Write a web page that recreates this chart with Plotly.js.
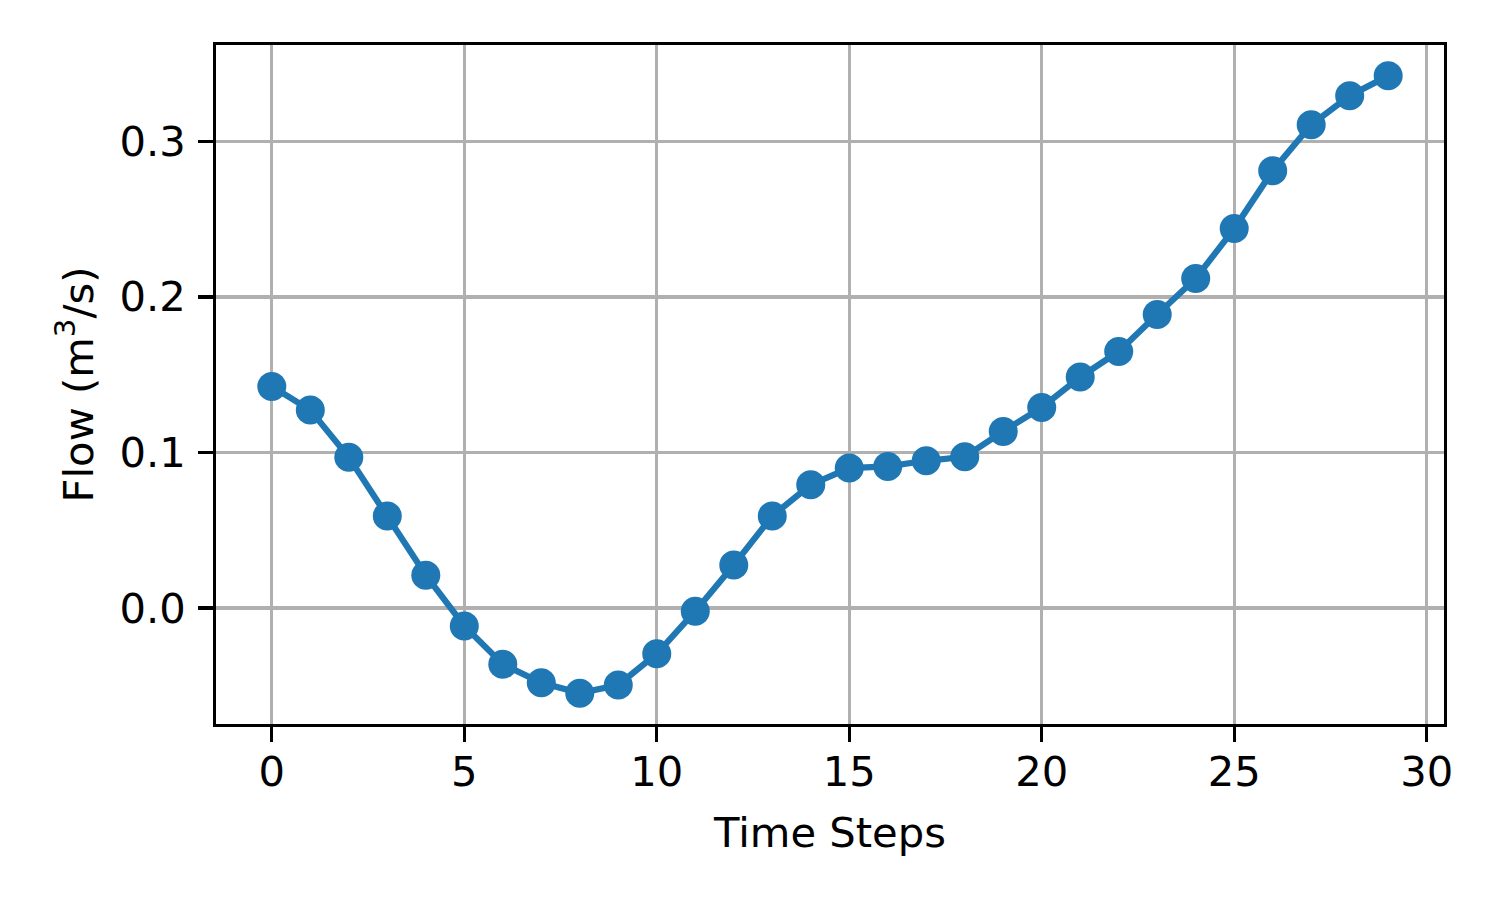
<!DOCTYPE html>
<html>
<head>
<meta charset="utf-8">
<script src="https://cdn.plot.ly/plotly-3.0.1.min.js"></script>
<style>html,body{margin:0;padding:0;background:#fff;}#chart{width:1500px;height:900px;}</style>
</head>
<body>
<div id="chart"></div>
<script>
const timeSteps = [0,1,2,3,4,5,6,7,8,9,10,11,12,13,14,15,16,17,18,19,20,21,22,23,24,25,26,27,28,29];
const flowValues = [0.1424,0.1272,0.0968,0.0591,0.0210,-0.0116,-0.0362,-0.0482,-0.0548,-0.0496,
  -0.0295,-0.0021,0.0276,0.0591,0.0792,0.0899,0.0910,0.0946,0.0972,0.1135,
  0.1289,0.1484,0.1649,0.1886,0.2118,0.2439,0.2811,0.3107,0.3293,0.3421];
const xTicks = [0,5,10,15,20,25,30];
const yTicks = [0.0,0.1,0.2,0.3];
const yTickLabels = ['0.0','0.1','0.2','0.3'];

const xmin = Math.min(...timeSteps), xmax = Math.max(...timeSteps);
const ymin = Math.min(...flowValues), ymax = Math.max(...flowValues);
const xm = (xmax - xmin) * 0.05, ym = (ymax - ymin) * 0.05;

const font = {family: 'DejaVu Sans', size: 41.7, color: '#000'};

const trace = {
  x: timeSteps, y: flowValues, type: 'scatter', mode: 'lines+markers',
  line: {color: '#1f77b4', width: 6.25},
  marker: {color: '#1f77b4', size: 29},
  hoverinfo: 'skip'
};

const axisCommon = {
  showline: true, mirror: true, linecolor: '#000', linewidth: 3.3,
  ticks: 'outside', ticklen: 14.6, tickwidth: 3.3, tickcolor: '#000',
  showgrid: true, gridcolor: '#b0b0b0', gridwidth: 3.3, zeroline: false,
  tickfont: font
};

const layout = {
  width: 1500, height: 900,
  paper_bgcolor: '#fff', plot_bgcolor: '#fff',
  margin: {l: 216, r: 56, t: 45, b: 176},
  showlegend: false,
  font: font,
  xaxis: Object.assign({}, axisCommon, {
    range: [xmin - xm, xmax + xm],
    tickvals: xTicks,
    ticktext: xTicks.map(String),
    ticklabelstandoff: -6,
    title: {text: 'Time Steps', font: font, standoff: 24}
  }),
  yaxis: Object.assign({}, axisCommon, {
    range: [ymin - ym, ymax + ym],
    tickvals: yTicks,
    ticktext: yTickLabels,
    ticklabelstandoff: 4,
    title: {text: 'Flow (m<sup>3</sup>/s)', font: font, standoff: 14}
  })
};

Plotly.newPlot('chart', [trace], layout, {staticPlot: true, displayModeBar: false});
</script>
</body>
</html>
